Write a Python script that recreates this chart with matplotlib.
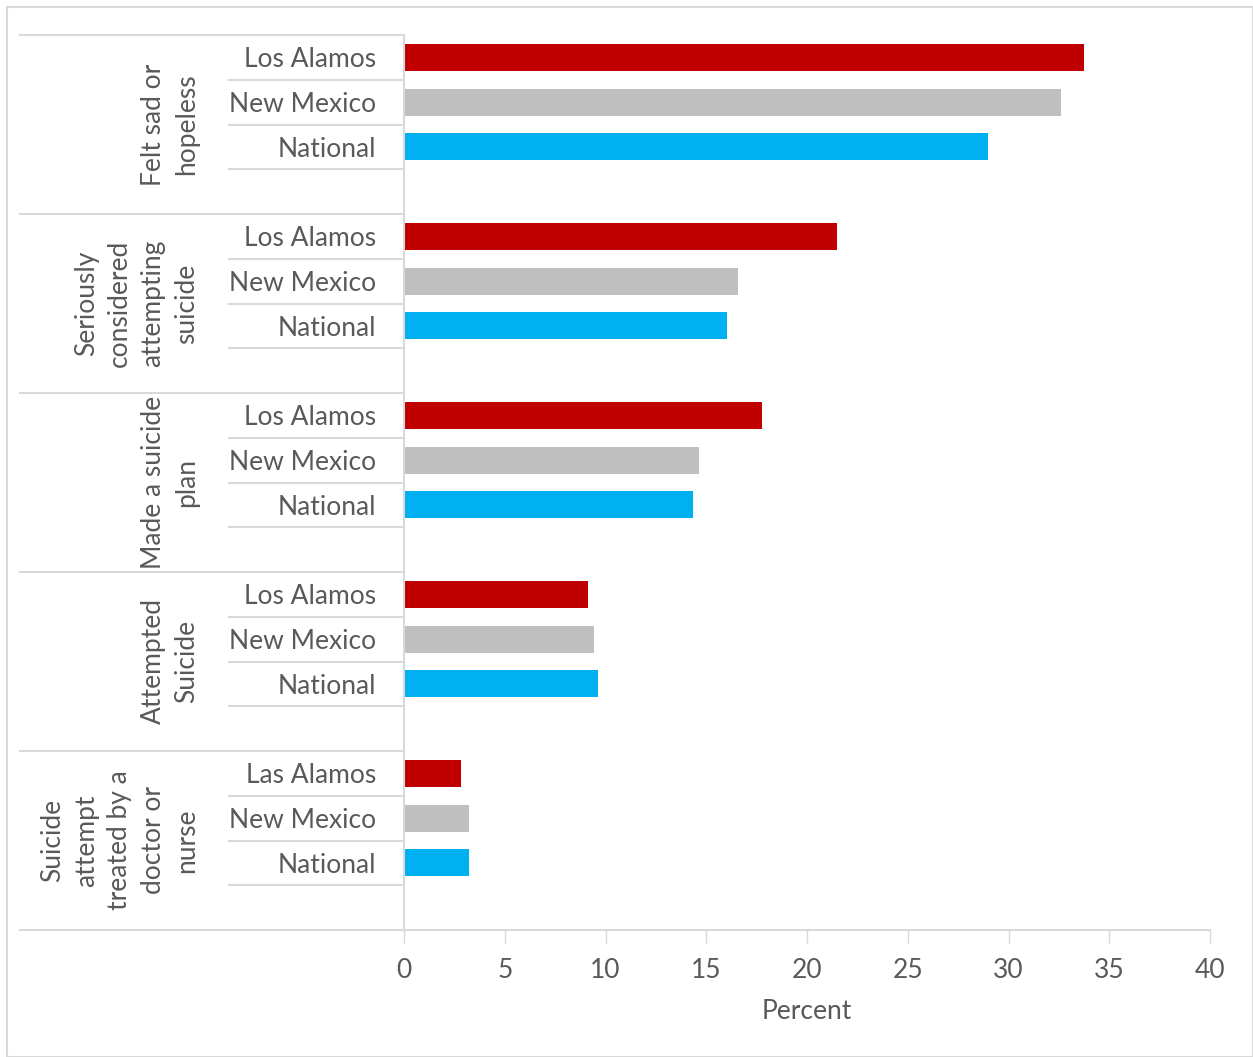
import matplotlib
matplotlib.use("Agg")
import matplotlib.pyplot as plt
from matplotlib.patches import Rectangle
import matplotlib.transforms as mtransforms

plt.rcParams['font.family'] = ['Lato', 'DejaVu Sans']

# ---- data ----
groups = ["Felt sad or\nhopeless",
          "Seriously\nconsidered\nattempting\nsuicide",
          "Made a suicide\nplan",
          "Attempted\nSuicide",
          "Suicide\nattempt\ntreated by a\ndoctor or\nnurse"]
sub_labels = [["Los Alamos", "New Mexico", "National"],
              ["Los Alamos", "New Mexico", "National"],
              ["Los Alamos", "New Mexico", "National"],
              ["Los Alamos", "New Mexico", "National"],
              ["Las Alamos", "New Mexico", "National"]]
los_alamos = [33.75, 21.5, 17.75, 9.15, 2.85]
new_mexico = [32.6, 16.6, 14.65, 9.45, 3.25]
national = [29.0, 16.05, 14.35, 9.65, 3.25]
colors = ["#C00000", "#BFBFBF", "#00B0F0"]
x_ticks = [0, 5, 10, 15, 20, 25, 30, 35, 40]
x_label = "Percent"

W, H = 1253, 1057
fig = plt.figure(figsize=(W / 100, H / 100), dpi=100)
fig.patches.append(Rectangle((7 / W, 0), (W - 7) / W, (H - 7) / H, transform=fig.transFigure,
                             fill=False, edgecolor="#D9D9D9", linewidth=1.5))

L, R, T, B = 404, 1210, 35, 930
ax = fig.add_axes([L / W, (H - B) / H, (R - L) / W, (B - T) / H])

text_color = "#595959"
line_color = "#D9D9D9"
fs = 19

n_groups = len(groups)
slots = 4
series = [los_alamos, new_mexico, national]
for g in range(n_groups):
    for s in range(3):
        y = g * slots + s + 0.5
        ax.barh(y, series[s][g], height=0.6, color=colors[s], edgecolor="none")

ax.set_xlim(0, 40)
ax.set_ylim(n_groups * slots, 0)
ax.set_yticks([])
ax.set_xticks(x_ticks)
ax.set_xticklabels([str(t) for t in x_ticks], fontsize=fs, color=text_color)
ax.tick_params(axis='x', length=9, width=1, color=line_color, pad=11)
for sp in ["top", "right"]:
    ax.spines[sp].set_visible(False)
ax.spines["left"].set_color(line_color)
ax.spines["bottom"].set_color(line_color)
ax.spines["left"].set_linewidth(1.5)
ax.spines["bottom"].set_linewidth(1.5)
ax.set_xlabel(x_label, fontsize=fs, color=text_color, labelpad=12)

def fx(px):
    return (px - L) / (R - L)

trans = mtransforms.blended_transform_factory(ax.transAxes, ax.transData)
for g in range(n_groups):
    y0 = g * slots
    # group separator lines
    ax.plot([fx(20), 0], [y0, y0], transform=trans, color=line_color, lw=1.5, clip_on=False)
    for k in range(1, 4):
        ax.plot([fx(229), 0], [y0 + k, y0 + k], transform=trans, color=line_color, lw=1.5, clip_on=False)
    for s in range(3):
        ax.text(fx(376), y0 + s + 0.55, sub_labels[g][s], transform=trans, ha="right", va="center",
                fontsize=fs, color=text_color)
    ax.text(fx(199), y0 + slots / 2, groups[g], transform=trans, rotation=90, ha="right", va="center",
            multialignment="center", fontsize=fs, color=text_color, linespacing=1.42)
ax.plot([fx(20), 0], [n_groups * slots] * 2, transform=trans, color=line_color, lw=1.5, clip_on=False)

fig.savefig("out.png", dpi=100)
